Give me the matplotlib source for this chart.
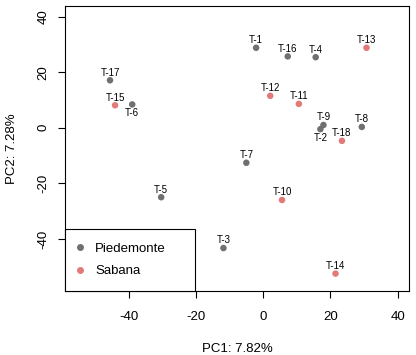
import numpy as np
import matplotlib
matplotlib.use("Agg")
import matplotlib.pyplot as plt
from matplotlib.lines import Line2D

plt.rcParams['font.family'] = ['Liberation Sans', 'DejaVu Sans']
plt.rcParams['axes.unicode_minus'] = False

# --- PCA scores ---
labels = ['T-1', 'T-2', 'T-3', 'T-4', 'T-5', 'T-6', 'T-7', 'T-8', 'T-9',
          'T-10', 'T-11', 'T-12', 'T-13', 'T-14', 'T-15', 'T-16', 'T-17', 'T-18']
pc1 = [-2.1, 17.0, -11.8, 15.6, -30.3, -38.9, -5.0, 29.3, 17.9,
       5.6, 10.6, 2.1, 30.7, 21.5, -44.0, 7.3, -45.5, 23.4]
pc2 = [28.8, -0.5, -43.3, 25.4, -25.0, 8.4, -12.6, 0.3, 1.0,
       -26.0, 8.6, 11.5, 28.8, -52.5, 8.1, 25.7, 17.1, -4.7]
group = ['Piedemonte', 'Piedemonte', 'Piedemonte', 'Piedemonte', 'Piedemonte',
         'Piedemonte', 'Piedemonte', 'Piedemonte', 'Piedemonte',
         'Sabana', 'Sabana', 'Sabana', 'Sabana', 'Sabana', 'Sabana',
         'Piedemonte', 'Piedemonte', 'Sabana']
below = ['T-2', 'T-6']  # labels drawn under the point

groups = ['Piedemonte', 'Sabana']
colors = {'Piedemonte': '#707070', 'Sabana': '#E27A7A'}

fig = plt.figure(figsize=(4.16, 3.55), dpi=100)
ax = fig.add_axes([0.156, 0.180, 0.827, 0.802])

pc1 = np.array(pc1)
pc2 = np.array(pc2)
group = np.array(group)
for g in groups:
    m = group == g
    ax.scatter(pc1[m], pc2[m], s=22, color=colors[g], edgecolors='none', zorder=3)

for lab, x, y in zip(labels, pc1, pc2):
    dy = -6.5 if lab in below else 5.5
    ax.annotate(lab, (x, y), xytext=(0, dy), textcoords='offset points',
                ha='center', va='center', fontsize=7)

ax.set_xlim(-58.9, 43.3)
ax.set_ylim(-58.8, 43.7)
ax.set_xticks([-40, -20, 0, 20, 40])
ax.set_yticks([-40, -20, 0, 20, 40])
ax.tick_params(labelsize=9.5, length=5, width=0.8)
ax.tick_params(axis='x', pad=9)
ax.tick_params(axis='y', pad=6)
for t in ax.get_yticklabels():
    t.set_rotation(90)
    t.set_va('center')
ax.set_xlabel('PC1: 7.82%', fontsize=9.5, labelpad=14.5)
ax.set_ylabel('PC2: 7.28%', fontsize=9.5, labelpad=14)
for s in ax.spines.values():
    s.set_linewidth(0.8)

handles = [Line2D([], [], marker='o', linestyle='none', markersize=5,
                  markerfacecolor=colors[g], markeredgecolor='none') for g in groups]
leg = ax.legend(handles, groups, loc='lower left', bbox_to_anchor=(0, 0, 0.378, 0.225),
                mode='expand', borderaxespad=0, fontsize=9.5, fancybox=False,
                framealpha=1, edgecolor='black', handlelength=0.2, handletextpad=1.05,
                borderpad=1.05, labelspacing=0.75)
leg.get_frame().set_linewidth(0.8)

plt.savefig('out.png', dpi=100)
